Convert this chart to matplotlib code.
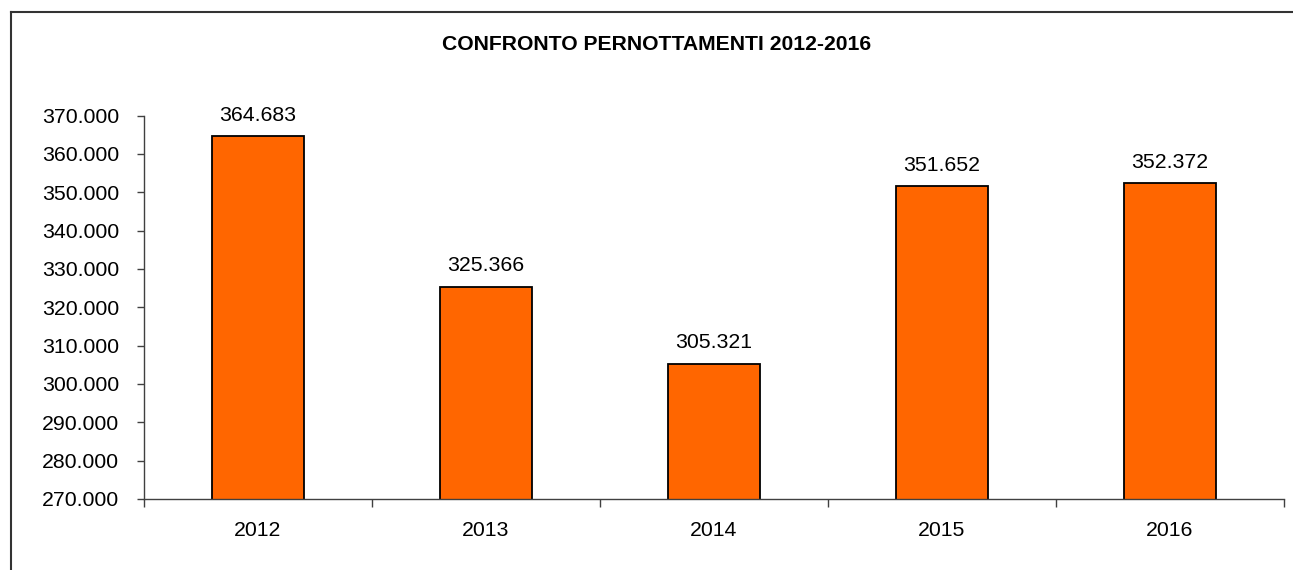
import matplotlib.pyplot as plt
from matplotlib.lines import Line2D
from matplotlib.ticker import FuncFormatter, FixedLocator
import numpy as np

# data
years = ["2012", "2013", "2014", "2015", "2016"]
pernottamenti = [364683, 325366, 305321, 351652, 352372]
y_ticks = list(range(270000, 370001, 10000))

plt.rcParams["font.family"] = ["Liberation Sans", "DejaVu Sans"]

def it_fmt(v, pos=None):
    # italian thousands separator
    return f"{int(round(v)):,}".replace(",", ".")

fig = plt.figure(figsize=(12.93, 5.70), dpi=100)
ax = fig.add_axes([0.1114, 0.1246, 0.8816, 0.6725])

x = np.arange(len(years))
ax.bar(x, pernottamenti, width=0.40, color="#FF6600",
       edgecolor="black", linewidth=1.3, zorder=2)

for xi, v in zip(x, pernottamenti):
    ax.annotate(it_fmt(v), (xi, v), xytext=(0, 15), textcoords="offset points",
                ha="center", va="center", fontsize=15.3)

ax.set_xlim(-0.5, len(years) - 0.5)
ax.set_ylim(270000, 370000)
ax.set_yticks(y_ticks)
ax.yaxis.set_major_formatter(FuncFormatter(it_fmt))
ax.set_xticks(x)
ax.set_xticklabels(years)
ax.xaxis.set_minor_locator(FixedLocator(np.arange(-0.5, len(years), 1.0)))

ax.tick_params(axis="y", direction="out", length=5, width=1, color="#404040",
               labelsize=15.3, pad=13)
ax.tick_params(axis="x", which="major", length=0, labelsize=15.3, pad=16)
ax.tick_params(axis="x", which="minor", direction="out", length=6, width=1,
               color="#404040")

for s in ["top", "right"]:
    ax.spines[s].set_visible(False)
for s in ["left", "bottom"]:
    ax.spines[s].set_color("#404040")
    ax.spines[s].set_linewidth(1)

fig.text(657 / 1293, 1 - 44 / 570, "CONFRONTO PERNOTTAMENTI 2012-2016",
         ha="center", va="center", fontsize=15.2, fontweight="bold")

# chart frame (only top and left edges visible in the crop)
fig.add_artist(Line2D([11 / 1293, 11 / 1293], [0, 1 - 12 / 570],
                      color="#333333", linewidth=1.5))
fig.add_artist(Line2D([11 / 1293, 1], [1 - 12 / 570, 1 - 12 / 570],
                      color="#333333", linewidth=1.5))

fig.savefig("out.png", dpi=100)
